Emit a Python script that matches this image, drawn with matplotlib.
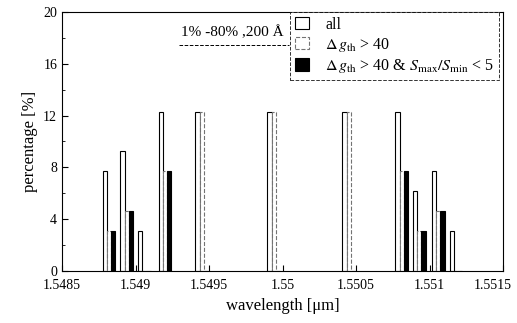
import numpy as np
import matplotlib
matplotlib.use('Agg')
import matplotlib.pyplot as plt
import matplotlib.transforms as mtransforms

plt.rcParams['font.family'] = ['Liberation Serif', 'DejaVu Serif']
plt.rcParams['mathtext.fontset'] = 'stix'

# group centers (um) and percentages of each series
wavelength = [1.54882, 1.54894, 1.54906, 1.54920, 1.54945, 1.54994,
              1.55045, 1.55081, 1.55093, 1.55106, 1.55118]
pct_all = [7.69, 9.23, 3.08, 12.31, 12.31, 12.31, 12.31, 12.31, 6.15, 7.69, 3.08]
pct_dg = [3.08, 4.62, 0, 7.69, 12.31, 12.31, 12.31, 7.69, 3.08, 4.62, 0]
pct_both = [3.08, 4.62, 0, 7.69, 0, 0, 0, 7.69, 3.08, 4.62, 0]

xticks = [1.5485, 1.549, 1.5495, 1.55, 1.5505, 1.551, 1.5515]
xticklabels = ['1.5485', '1.549', '1.5495', '1.55', '1.5505', '1.551', '1.5515']
yticks = [0, 4, 8, 12, 16, 20]

fig = plt.figure(figsize=(5.17, 3.23), dpi=100)
ax = fig.add_axes([0.12, 0.161, 0.853, 0.802])

w = 0.0000285
x = np.array(wavelength)
ax.bar(x - w, pct_all, width=w, facecolor='white', edgecolor='black',
       linewidth=0.8, label='all')
ax.bar(x, pct_dg, width=w, facecolor='white', edgecolor='0.45',
       linewidth=0.8, linestyle='--', label=r'$\Delta\, g_{\rm th}$ > 40')
ax.bar(x + w, pct_both, width=w, facecolor='black', edgecolor='black',
       linewidth=0.8,
       label=r'$\Delta\, g_{\rm th}$ > 40 & $S_{\rm max}/S_{\rm min}$ < 5')

ax.set_xlim(1.5485, 1.5515)
ax.set_ylim(0, 20)
ax.set_xticks(xticks)
ax.set_xticklabels(xticklabels)
ax.set_yticks(yticks)
ax.set_yticks([2, 6, 10, 14, 18], minor=True)
ax.tick_params(direction='in', labelsize=10, length=4)
ax.tick_params(which='minor', direction='in', length=2)
ax.tick_params(axis='x', pad=6)
for s in ax.spines.values():
    s.set_linewidth(0.8)

# last tick label sits a bit to the left so it stays inside the figure
last = ax.get_xticklabels()[-1]
last.set_transform(last.get_transform() +
                   mtransforms.ScaledTranslation(-0.1, 0, fig.dpi_scale_trans))

ax.set_xlabel('wavelength [μm]', fontsize=12)
ax.set_ylabel('percentage [%]', fontsize=12)

leg = ax.legend(loc='upper left', bbox_to_anchor=(0.517, 1.0), fontsize=11.5,
                frameon=True, fancybox=False, borderaxespad=0,
                handlelength=0.9, handleheight=0.8, labelspacing=0.2,
                borderpad=0.3, handletextpad=1.0)
leg.get_frame().set_edgecolor('black')
leg.get_frame().set_linewidth(0.7)
leg.get_frame().set_linestyle('--')

ax.text(0.27, 0.92, '1% -80% ,200 Å', transform=ax.transAxes, fontsize=11,
        ha='left', va='center')
ax.plot([0.265, 0.515], [0.873, 0.873], transform=ax.transAxes,
        color='black', linewidth=0.7, linestyle='--')

fig.savefig('out.png', dpi=100)
